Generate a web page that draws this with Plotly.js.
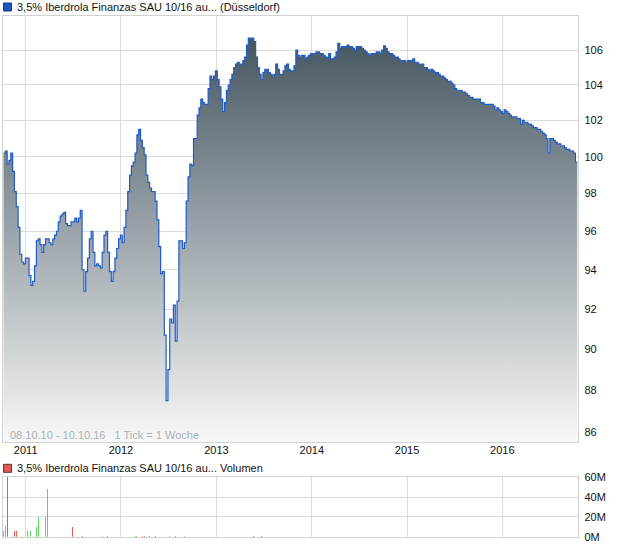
<!DOCTYPE html>
<html>
<head>
<meta charset="utf-8">
<script src="https://cdn.plot.ly/plotly-3.0.1.min.js"></script>
<style>html,body{margin:0;padding:0;background:#fff;}#chart{width:620px;height:546px;}</style>
</head>
<body>
<div id="chart"></div>
<script>
// Weekly closing prices (1 Tick = 1 Woche), first tick 08.10.10
var startDate = '2010-10-08';
var prices = [
100.2,100.3,99.6,99.8,100.2,99.2,98.1,97.3,96.2,94.8,
94.4,94.3,94.6,94.6,93.7,93.2,93.4,94.2,95.5,95.6,
95.3,94.9,95.3,95.6,95.6,95.4,95.3,95.6,95.8,96.0,
96.5,96.8,96.9,97.0,96.4,96.3,96.3,96.5,96.5,96.7,
96.5,96.7,97.1,94.0,92.9,93.9,94.6,95.6,96.0,94.9,
94.2,94.3,94.2,94.1,94.9,95.8,96.0,94.9,93.9,93.4,
93.9,94.6,95.1,95.6,95.8,95.4,96.2,97.1,98.1,99.0,
99.5,99.7,100.2,101.2,101.5,100.9,100.5,100.1,99.0,98.6,
98.3,98.1,98.1,97.6,96.6,95.2,93.8,93.9,90.7,87.5,
89.0,91.5,91.3,92.2,90.4,92.4,95.5,95.5,95.1,95.4,
97.6,98.9,99.6,99.5,101.0,101.0,102.3,102.7,103.2,103.0,
102.9,102.9,103.8,104.5,104.3,104.5,104.8,104.3,103.9,103.2,
102.5,103.0,103.7,104.0,104.3,104.6,105.0,105.2,105.3,105.2,
105.2,105.4,105.6,106.3,106.7,106.7,106.7,106.5,105.6,105.0,
104.6,104.3,104.7,104.9,104.9,104.7,104.6,104.5,104.6,105.2,
104.9,104.6,104.6,104.8,105.1,105.2,104.9,104.8,104.8,105.1,
106.0,105.7,105.6,105.7,105.7,105.5,105.6,105.7,105.8,105.8,
105.8,105.9,105.9,105.8,105.8,105.7,105.6,105.6,105.8,105.5,
105.5,105.6,105.9,106.4,106.1,106.2,106.2,106.2,106.3,106.2,
106.2,106.1,106.0,106.2,106.2,106.2,106.1,106.0,105.9,105.8,
105.7,105.8,105.8,105.8,105.9,105.9,105.8,106.0,106.25,106.1,
105.9,105.8,105.8,105.7,105.6,105.6,105.5,105.4,105.4,105.4,
105.3,105.4,105.4,105.4,105.5,105.3,105.3,105.2,105.2,105.2,
105.0,105.0,104.9,104.8,104.9,104.8,104.7,104.7,104.6,104.5,
104.5,104.4,104.3,104.2,104.2,104.1,104.0,103.8,103.7,103.7,
103.7,103.6,103.6,103.5,103.4,103.3,103.3,103.2,103.2,103.2,
103.2,103.0,103.0,102.9,102.9,102.9,102.9,102.9,102.8,102.6,
102.7,102.6,102.5,102.4,102.6,102.5,102.4,102.3,102.2,102.2,
102.2,102.1,102.1,101.8,102.0,101.9,101.9,101.8,101.8,101.7,
101.6,101.6,101.5,101.5,101.4,101.3,101.2,101.0,100.2,101.0,
101.0,100.9,100.8,100.7,100.7,100.6,100.6,100.5,100.4,100.4,
100.3,100.3,100.2,99.7,99.7
];

// Weekly volume bars (only weeks with turnover)
var volDates = ['2010-10-08','2010-10-15','2010-10-22','2010-11-19','2010-11-26','2011-01-07','2011-01-21',
  '2011-02-11','2011-02-18','2011-03-18','2011-03-25','2011-07-01','2011-08-05','2011-10-21','2011-11-11',
  '2012-02-24','2012-03-02','2012-03-23','2012-03-30','2012-04-06','2012-04-20','2012-05-11','2012-07-06',
  '2012-07-27','2012-08-31','2013-05-24','2013-06-21'];
var volValues = [6.0e6,10.8e6,60e6,5.7e6,5.7e6,5.7e6,5.7e6,
  9.4e6,20.2e6,20.2e6,48.2e6,9.8e6,0.8e6,0.9e6,0.9e6,
  0.9e6,0.9e6,1.0e6,1.0e6,1.0e6,0.9e6,0.8e6,0.9e6,
  0.9e6,0.9e6,0.8e6,0.8e6];
var volDir = ['flat','up','down','down','down','up','up',
  'up','up','up','up','down','down','up','down',
  'up','up','down','down','down','down','down','up',
  'down','up','down','down'];

var yearTicks = ['2011-01-01','2012-01-01','2013-01-01','2014-01-01','2015-01-01','2016-01-01'];
var yearLabels = ['2011','2012','2013','2014','2015','2016'];
var priceTicks = [86,88,90,92,94,96,98,100,102,104,106];
var volTicks = [0,20e6,40e6,60e6];
var volTickLabels = ['0M','20M','40M','60M'];

var titlePrice = '3,5% Iberdrola Finanzas SAU 10/16 au... (Düsseldorf)';
var titleVolume = '3,5% Iberdrola Finanzas SAU 10/16 au... Volumen';
var rangeNote = '08.10.10 - 10.10.16&nbsp;&nbsp;&nbsp;1 Tick = 1 Woche';

// build weekly date axis
function addDays(s, n){
  var d = new Date(s + 'T00:00:00Z');
  d.setUTCDate(d.getUTCDate() + n);
  return d.toISOString().slice(0,10);
}
var priceDates = prices.map(function(_, i){ return addDays(startDate, 7*i); });
var dirColor = {up:'#5fd65f', down:'#de5b57', flat:'#a8a8a8'};
var volColors = volDir.map(function(d){ return dirColor[d]; });

var FONT = '"Liberation Sans", Arial, Helvetica, sans-serif';
var gridC = '#dcdcdc', frameC = '#d2d2d2';
var xRange = ['2010-10-05','2016-10-18'];
var xDom = [2.7/620, 578.3/620];
function py(px){ return (546 - px)/546; }

var traces = [
  {
    type:'scatter', mode:'lines', x: priceDates, y: prices,
    xaxis:'x', yaxis:'y',
    line:{color:'#1f5bc8', width:1.2, shape:'hv'},
    fill:'tozeroy',
    fillgradient:{type:'vertical', start:85.56, stop:108.0,
      colorscale:[[0,'rgb(247,248,248)'],[1,'rgb(60,78,90)']]},
    hoverinfo:'skip'
  },
  {
    type:'bar', x: volDates, y: volValues, xaxis:'x2', yaxis:'y2',
    marker:{color: volColors, line:{width:0}},
    width: 3.6*86400000,
    hoverinfo:'skip'
  }
];

var axCommon = {showgrid:true, gridcolor:gridC, gridwidth:1, showline:true, mirror:true,
  linecolor:frameC, linewidth:1, ticks:'', zeroline:false, fixedrange:true};

var layout = {
  width:620, height:546,
  margin:{l:0, r:0, t:0, b:0},
  paper_bgcolor:'#ffffff', plot_bgcolor:'#ffffff',
  showlegend:false,
  font:{family:FONT, size:11, color:'#1a1a1a'},
  bargap:0,
  xaxis: Object.assign({}, axCommon, {
    type:'date', domain:xDom, range:xRange, anchor:'y',
    tickmode:'array', tickvals:yearTicks, ticktext:yearLabels,
    tickfont:{family:FONT, size:11, color:'#111'}, ticklabelstandoff:-2
  }),
  yaxis: Object.assign({}, axCommon, {
    type:'log', domain:[py(441.7), py(16)],
    range:[Math.log10(85.56), Math.log10(108.0)],
    side:'right', anchor:'x',
    tickmode:'array', tickvals:priceTicks, ticktext:priceTicks.map(String),
    tickfont:{family:FONT, size:11, color:'#111'}, ticklabelstandoff:3
  }),
  xaxis2: Object.assign({}, axCommon, {
    type:'date', domain:xDom, range:xRange, anchor:'y2',
    tickmode:'array', tickvals:yearTicks, showticklabels:false
  }),
  yaxis2: Object.assign({}, axCommon, {
    domain:[py(536.7), py(477.3)], range:[0, 60e6],
    side:'right', anchor:'x2',
    tickmode:'array', tickvals:volTicks, ticktext:volTickLabels,
    tickfont:{family:FONT, size:11, color:'#111'}, ticklabelstandoff:3
  }),
  shapes:[
    {type:'rect', xref:'paper', yref:'paper', x0:3.5/620, x1:11.5/620, y0:py(11), y1:py(3),
      fillcolor:'#1f56bd', line:{color:'#123a7e', width:1}},
    {type:'rect', xref:'paper', yref:'paper', x0:3.5/620, x1:11.5/620, y0:py(472.3), y1:py(464.3),
      fillcolor:'#de5b57', line:{color:'#6e2a28', width:1}}
  ],
  annotations:[
    {xref:'paper', yref:'paper', x:15/620, y:py(7), xanchor:'left', yanchor:'middle',
      text:titlePrice, showarrow:false, font:{family:FONT, size:11, color:'#111'}},
    {xref:'paper', yref:'paper', x:15/620, y:py(468.3), xanchor:'left', yanchor:'middle',
      text:titleVolume, showarrow:false, font:{family:FONT, size:11, color:'#111'}},
    {xref:'paper', yref:'paper', x:8/620, y:py(435), xanchor:'left', yanchor:'middle',
      text:rangeNote, showarrow:false, font:{family:FONT, size:11, color:'#a9b1b9'}}
  ]
};

Plotly.newPlot('chart', traces, layout, {staticPlot:true, displayModeBar:false});
</script>
</body>
</html>
